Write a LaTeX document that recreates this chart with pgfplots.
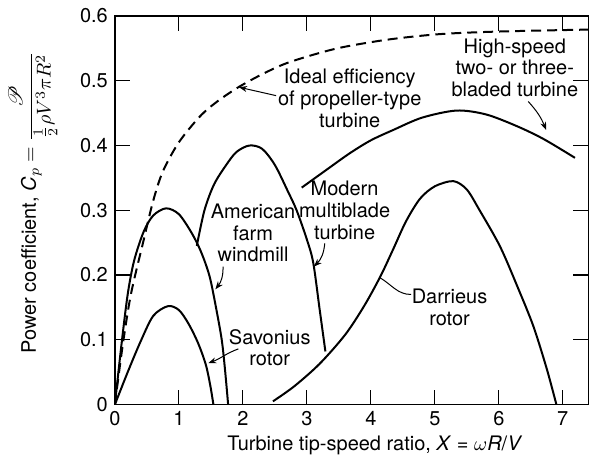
\documentclass[border=0pt]{standalone}
\usepackage{pgfplots}
\pgfplotsset{compat=1.18}
\usepackage{fontspec}
\usepackage{mathrsfs}
\setmainfont{TeX Gyre Heros}
\usetikzlibrary{arrows.meta}
\begin{document}
\begin{tikzpicture}[font=\fontsize{10}{10.85}\selectfont]
\begin{axis}[name=ax,
  scale only axis, width=237pt, height=194.5pt,
  xmin=0, xmax=7.4, ymin=0, ymax=0.6,
  xtick={0,1,...,7}, ytick={0,0.1,0.2,0.3,0.4,0.5,0.6},
  yticklabels={0,0.1,0.2,0.3,0.4,0.5,0.6},
  /pgf/number format/assume math mode=true,
  tick align=inside, major tick length=7.5pt,
  tick style={black, line width=0.6pt},
  axis line style={line width=0.7pt},
  ticklabel style={font=\fontsize{10}{10.85}\selectfont},
  xlabel={Turbine tip-speed ratio, \textit{X} = $\omega$\textit{R}/\textit{V}},
  xlabel style={at={(axis description cs:0.549,0)}, anchor=center, yshift=-20.5pt},
  ylabel={Power coefficient, \textit{C}$_p = \displaystyle\frac{\mathscr{P}}{\frac{1}{2}\rho V^3\pi R^2}$},
  ylabel style={at={(axis description cs:-0.173,0.52)}, anchor=center, rotate=0},
  cycle list={{black,solid,line width=1pt,smooth,no markers}},
  clip=true,
]
% Ideal efficiency (dashed)
\addplot[black, line width=1pt, smooth, dash pattern=on 5pt off 3pt] coordinates {
(0,0) (0.12,0.09) (0.25,0.17) (0.44,0.25) (0.6,0.315) (0.75,0.36) (1.0,0.405)
(1.33,0.445) (1.6,0.468) (1.93,0.49) (2.3,0.51) (2.68,0.527) (3.2,0.543)
(3.62,0.553) (4.3,0.564) (5.08,0.572) (6.0,0.576) (7.4,0.579)};
% American farm windmill
\addplot[black, line width=1pt, smooth] coordinates {
(0,0) (0.1,0.09) (0.2,0.17) (0.3,0.222) (0.45,0.267) (0.6,0.292) (0.8,0.303)
(1.0,0.294) (1.2,0.265) (1.35,0.235) (1.48,0.198) (1.58,0.15) (1.67,0.1)
(1.72,0.055) (1.77,0)};
% Savonius rotor
\addplot[black, line width=1pt, smooth] coordinates {
(0,0) (0.2,0.05) (0.4,0.097) (0.6,0.137) (0.83,0.152) (1.0,0.146) (1.15,0.125)
(1.3,0.095) (1.42,0.062) (1.49,0.03) (1.54,0)};
% Modern multiblade turbine
\addplot[black, line width=1pt, smooth] coordinates {
(1.28,0.245) (1.4,0.3) (1.55,0.34) (1.74,0.37) (1.9,0.39) (2.1,0.4) (2.3,0.395)
(2.5,0.37) (2.7,0.33) (2.84,0.30) (3.0,0.255) (3.1,0.219) (3.2,0.147) (3.29,0.082)};
% High-speed two- or three-bladed turbine
\addplot[black, line width=1pt, smooth] coordinates {
(2.92,0.335) (3.3,0.362) (3.67,0.388) (4.0,0.408) (4.35,0.424) (4.8,0.443)
(5.34,0.454) (5.8,0.448) (6.28,0.43) (6.7,0.41) (7.19,0.381)};
% Darrieus rotor
\addplot[black, line width=1pt, smooth] coordinates {
(2.47,0.005) (2.8,0.028) (3.2,0.063) (3.6,0.108) (3.9,0.153) (4.15,0.198)
(4.35,0.24) (4.55,0.283) (4.77,0.318) (5.0,0.337) (5.29,0.345) (5.5,0.332)
(5.7,0.30) (6.02,0.244) (6.3,0.18) (6.54,0.121) (6.75,0.055) (6.9,0)};
% labels
\node[align=center] at (axis cs:3.67,0.473) {Ideal efficiency\\of propeller-type\\turbine};
\node[align=center] at (axis cs:6.25,0.52) {High-speed\\two- or three-\\bladed turbine};
\node[align=center] at (axis cs:3.59,0.30) {Modern\\multiblade\\turbine};
\node[align=center] at (axis cs:2.16,0.265) {American\\farm\\windmill};
\node[align=center] at (axis cs:2.42,0.088) {Savonius\\rotor};
\node[align=center] at (axis cs:5.23,0.15) {Darrieus\\rotor};
% leaders
\draw[line width=0.5pt, -{Stealth[length=4pt,width=3pt]}] (axis cs:2.52,0.477) -- (axis cs:1.94,0.49);
\draw[line width=0.5pt, -{Stealth[length=4pt,width=3pt]}] (axis cs:6.46,0.468) to[bend left=10] (axis cs:6.74,0.424);
\draw[line width=0.5pt, -{Stealth[length=4pt,width=3pt]}] (axis cs:3.28,0.249) to[bend left=20] (axis cs:3.11,0.213);
\draw[line width=0.5pt, -{Stealth[length=4pt,width=3pt]}] (axis cs:1.69,0.213) to[bend left=20] (axis cs:1.57,0.178);
\draw[line width=0.5pt, -{Stealth[length=4pt,width=3pt]}] (axis cs:1.93,0.086) to[out=200,in=20] (axis cs:1.46,0.064);
\draw[line width=0.5pt] (axis cs:4.63,0.17) to[out=180,in=-30] (axis cs:4.14,0.196);
\end{axis}
\pgfresetboundingbox
\path ([xshift=-57.5pt, yshift=-29.5pt]ax.south west) rectangle ([yshift=8pt, xshift=0.3pt]ax.north east);
\end{tikzpicture}
\end{document}
